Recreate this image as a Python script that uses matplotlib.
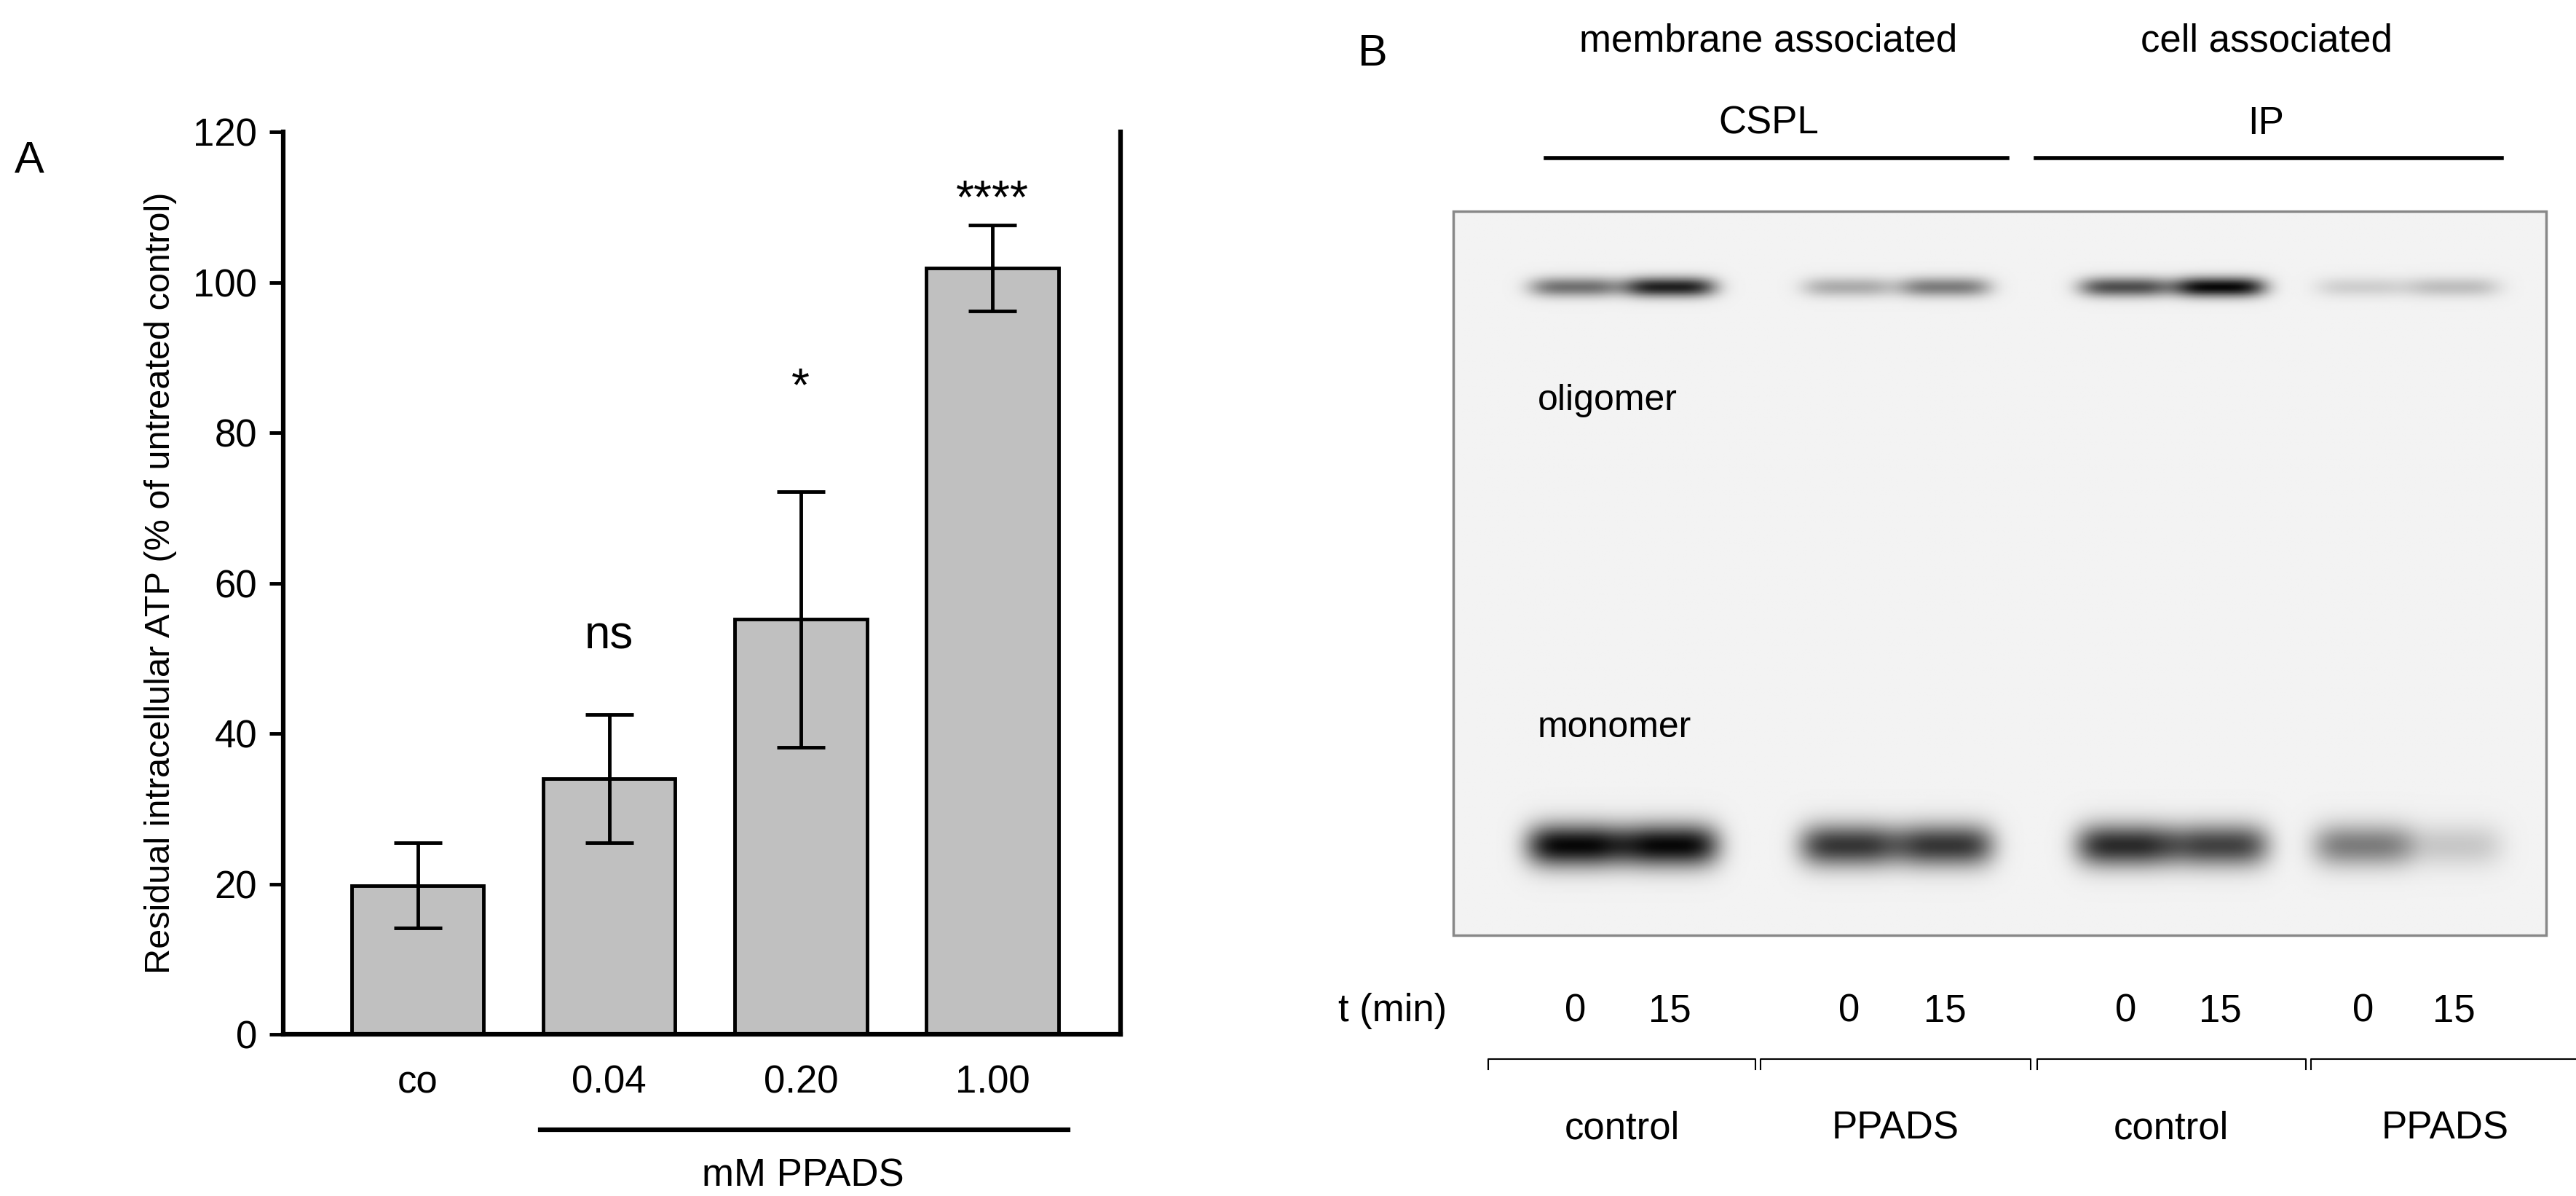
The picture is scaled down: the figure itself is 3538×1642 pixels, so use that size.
import numpy as np
import matplotlib
matplotlib.use("Agg")
import matplotlib.pyplot as plt

categories = ["co", "0.04", "0.20", "1.00"]
atp_mean = [19.8, 34.0, 55.2, 101.9]
atp_err = [5.7, 8.5, 17.0, 5.7]
signif = ["", "ns", "*", "****"]
signif_y = [None, 50, 83, 108]

lane_times = ["0", "15", "0", "15", "0", "15", "0", "15"]
oligomer_int = [0.55, 0.9, 0.3, 0.5, 0.7, 1.0, 0.15, 0.22]
monomer_int = [1.0, 1.0, 0.8, 0.8, 0.85, 0.75, 0.5, 0.18]
groups = ["control", "PPADS", "control", "PPADS"]

W, H = 1563, 725
fig = plt.figure(figsize=(35.38, 16.42), dpi=100)
plt.rcParams['font.family'] = ['Liberation Sans', 'DejaVu Sans']
FS = 38

def fx(x): return x / W
def fy(y): return 1 - y / H

ax = fig.add_axes([fx(172), fy(627), fx(680) - fx(172), fy(80) - fy(627)])
x = np.arange(len(categories))
ax.bar(x, atp_mean, width=0.69, color="#c0c0c0", edgecolor="black", linewidth=3.5,
       yerr=atp_err, capsize=24, error_kw=dict(elinewidth=3.5, capthick=3.5))
for i, s in enumerate(signif):
    if s:
        ax.text(i, signif_y[i], s, ha="center", va="bottom", fontsize=46)
ax.set_xlim(-0.7, 3.67)
ax.set_ylim(0, 120)
ax.set_yticks(range(0, 121, 20))
ax.set_xticks(x)
ax.set_xticklabels(categories)
ax.tick_params(labelsize=FS, width=3.5, length=14, direction="out", pad=12)
ax.tick_params(axis="x", length=0, pad=30)
for s in ["left", "bottom", "right"]:
    ax.spines[s].set_linewidth(4.5)
ax.spines["top"].set_visible(False)
ax.set_ylabel("Residual intracellular ATP (% of untreated control)", fontsize=35, labelpad=16)

ov = fig.add_axes([0, 0, 1, 1])
ov.set_xlim(0, W); ov.set_ylim(H, 0); ov.axis("off")
ov.text(18, 98, "A", fontsize=44, ha="center", va="center")
ov.plot([328, 648], [685, 685], color="black", lw=4.5)
ov.text(487, 713, "mM PPADS", fontsize=FS, ha="center", va="center")

ov.text(833, 33, "B", fontsize=44, ha="center", va="center")
ov.text(1073, 25, "membrane associated", fontsize=FS, ha="center", va="center")
ov.text(1375, 25, "cell associated", fontsize=FS, ha="center", va="center")
ov.text(1073, 75, "CSPL", fontsize=FS, ha="center", va="center")
ov.text(1375, 75, "IP", fontsize=FS, ha="center", va="center")
ov.plot([938, 1218], [96, 96], color="black", lw=4)
ov.plot([1235, 1518], [96, 96], color="black", lw=4)

bx0, bx1, by0, by1 = 882, 1545, 128, 567
nx, ny = 663, 439
xx, yy = np.meshgrid(np.linspace(bx0, bx1, nx), np.linspace(by0, by1, ny))
img = np.zeros_like(xx)
lane_x = [956, 1013, 1122, 1180, 1290, 1347, 1434, 1489]
for lx, o, m in zip(lane_x, oligomer_int, monomer_int):
    img += o * np.exp(-((xx - lx) / 28) ** 4 - ((yy - 174) / 6) ** 2)
    img += m * np.exp(-((xx - lx) / 30) ** 4 - ((yy - 513) / 13) ** 2)
img = 0.95 - 0.92 * np.clip(img, 0, 1)
ov.imshow(img, cmap="gray", vmin=0, vmax=1, extent=[bx0, bx1, by1, by0], aspect="auto", zorder=1)
ov.add_patch(plt.Rectangle((bx0, by0), bx1 - bx0, by1 - by0, fill=False, ec="#888888", lw=2.5, zorder=2))
ov.set_xlim(0, W); ov.set_ylim(H, 0)
ov.text(933, 243, "oligomer", fontsize=36, ha="left", va="center", zorder=3)
ov.text(933, 441, "monomer", fontsize=36, ha="left", va="center", zorder=3)

ov.text(878, 613, "t (min)", fontsize=FS, ha="right", va="center")
for lx, t in zip(lane_x, lane_times):
    ov.text(lx, 613, t, fontsize=FS, ha="center", va="center")
brackets = [(903, 1065), (1068, 1232), (1236, 1399), (1402, 1565)]
for (a, b), g in zip(brackets, groups):
    ov.plot([a, a, b, b], [648, 642, 642, 648], color="black", lw=1.5)
    ov.text((a + b) / 2, 684, g, fontsize=FS, ha="center", va="center")

fig.savefig("out.png", dpi=100)
